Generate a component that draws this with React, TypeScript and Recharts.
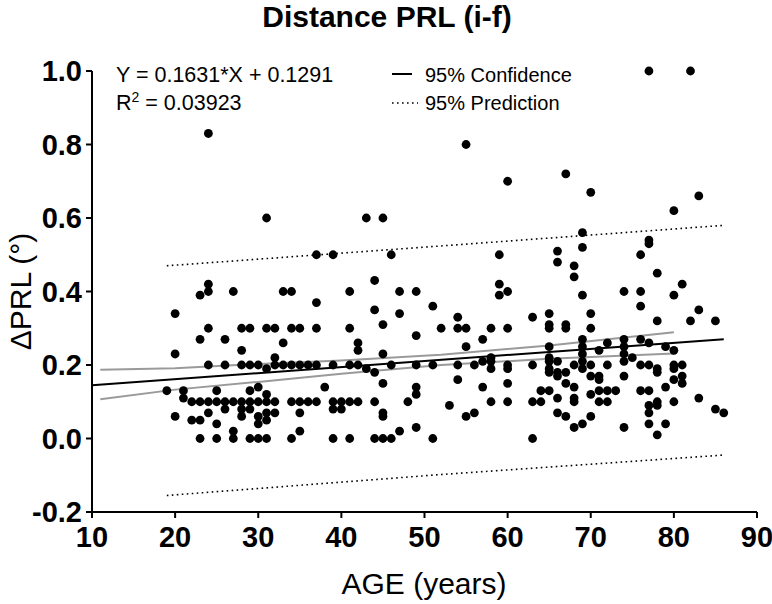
import React from "react";
import { ScatterChart, Scatter, XAxis, YAxis } from "recharts";

// ages (years) that have at least one measurement
const ages = [
  19, 20, 21, 22, 23, 24, 25, 26, 27, 28, 29, 30, 31, 32, 33, 34, 35, 36, 37,
  38, 39, 40, 41, 42, 43, 44, 45, 46, 47, 48, 49, 51, 52, 53, 54, 55, 56, 57,
  58, 59, 60, 63, 64, 65, 66, 67, 68, 69, 70, 71, 72, 73, 74, 75, 76, 77, 78,
  79, 80, 81, 82, 83, 85, 86,
];

// ΔPRL values for each age above, same order
const deltaPRL = [
  [0.13],
  [0.34, 0.23, 0.06],
  [0.13, 0.11],
  [0.1, 0.05],
  [0.39, 0.27, 0.1, 0.05, 0.0],
  [0.83, 0.42, 0.4, 0.3, 0.2, 0.1, 0.07],
  [0.13, 0.1, 0.04, 0.0],
  [0.27, 0.2, 0.1, 0.08],
  [0.4, 0.1, 0.02, 0.0],
  [0.3, 0.24, 0.2, 0.1, 0.08, 0.06],
  [0.3, 0.2, 0.13, 0.1, 0.08, 0.0],
  [0.2, 0.14, 0.1, 0.06, 0.04, 0.0],
  [0.6, 0.3, 0.19, 0.12, 0.1, 0.07, 0.05, 0.0],
  [0.3, 0.22, 0.2, 0.1, 0.07],
  [0.4, 0.26, 0.2],
  [0.4, 0.3, 0.2, 0.1, 0.0],
  [0.3, 0.2, 0.1, 0.07, 0.02],
  [0.2, 0.1],
  [0.5, 0.37, 0.3, 0.2, 0.1],
  [0.14],
  [0.5, 0.2, 0.1, 0.08, 0.0],
  [0.1, 0.08],
  [0.4, 0.3, 0.2, 0.1, 0.0],
  [0.26, 0.24, 0.2, 0.1],
  [0.6, 0.19],
  [0.43, 0.35, 0.18, 0.1, 0.0],
  [0.6, 0.31, 0.23, 0.15, 0.07, 0.06, 0.0],
  [0.5, 0.2, 0.0],
  [0.4, 0.34, 0.02],
  [0.1],
  [0.4, 0.28, 0.2, 0.14, 0.12, 0.03],
  [0.36, 0.2, 0.0],
  [0.3],
  [0.09],
  [0.33, 0.3, 0.2, 0.16],
  [0.8, 0.3, 0.25, 0.06],
  [0.2, 0.07],
  [0.27, 0.21, 0.14],
  [0.3, 0.22, 0.21, 0.19, 0.1],
  [0.5, 0.42, 0.39],
  [0.7, 0.4, 0.3, 0.2, 0.19, 0.15, 0.1],
  [0.33, 0.2, 0.1, 0.0],
  [0.13, 0.1],
  [0.34, 0.31, 0.3, 0.25, 0.22, 0.21, 0.19, 0.18, 0.13],
  [0.51, 0.48, 0.21, 0.18, 0.17, 0.11, 0.07],
  [0.72, 0.31, 0.3, 0.18, 0.15, 0.06],
  [0.47, 0.44, 0.2, 0.14, 0.11, 0.1, 0.03],
  [0.56, 0.52, 0.39, 0.27, 0.25, 0.23, 0.21, 0.19, 0.04],
  [0.67, 0.34, 0.3, 0.2, 0.17, 0.12, 0.06],
  [0.24, 0.17, 0.16, 0.13, 0.1],
  [0.26, 0.2, 0.13, 0.1],
  [0.13],
  [0.4, 0.27, 0.25, 0.23, 0.21, 0.17, 0.03],
  [0.22],
  [0.5, 0.4, 0.36, 0.27, 0.2, 0.13],
  [1.0, 0.54, 0.53, 0.26, 0.2, 0.13, 0.09, 0.07, 0.04],
  [0.45, 0.32, 0.19, 0.18, 0.1, 0.09, 0.01],
  [0.25, 0.14, 0.04],
  [0.62, 0.39, 0.24, 0.2, 0.19, 0.16, 0.1],
  [0.42, 0.2, 0.17, 0.15],
  [1.0, 0.32],
  [0.66, 0.35, 0.11],
  [0.32, 0.08],
  [0.07],
];

// regression line and bands
const fitAges = [10, 86];
const fitValues = [0.145, 0.27];

const confAges = [11, 20, 30, 40, 52, 65, 80];
const confUpper = [0.187, 0.191, 0.203, 0.212, 0.228, 0.253, 0.289];
const confLower = [0.107, 0.133, 0.154, 0.176, 0.2, 0.217, 0.231];

const predAges = [19, 52, 86];
const predUpper = [0.47, 0.524, 0.58];
const predLower = [-0.155, -0.098, -0.045];

const xTicks = [10, 20, 30, 40, 50, 60, 70, 80, 90];
const yTicks = [-0.2, 0, 0.2, 0.4, 0.6, 0.8, 1.0];

const points = ages.flatMap((a, i) => deltaPRL[i].map((v) => ({ x: a, y: v })));
const pairs = (xs: number[], ys: number[]) => xs.map((x, i) => ({ x, y: ys[i] }));

const FONT = "'Liberation Sans', Arial, Helvetica, sans-serif";
const W = 772;
const H = 604;

const Dot = (props: any) => <circle cx={props.cx} cy={props.cy} r={4.4} fill="#000" />;
const NoDot = () => <g />;

const XTick = (props: any) => (
  <text x={props.x} y={props.y} dy="0.71em" textAnchor="middle" fontSize={29} fontWeight={700} fontFamily={FONT} fill="#000">
    {props.payload.value}
  </text>
);

const YTick = (props: any) => (
  <text x={props.x} y={props.y} dy="0.36em" textAnchor="end" fontSize={29} fontWeight={700} fontFamily={FONT} fill="#000">
    {Number(props.payload.value).toFixed(1)}
  </text>
);

export default function App() {
  const axisStyle = { stroke: "#000", strokeWidth: 2 };
  const dotted = { stroke: "#000", strokeWidth: 1.6, strokeDasharray: "1.6 3.4" };
  const grey = { stroke: "#9a9a9a", strokeWidth: 2 };
  return (
    <div style={{ position: "absolute", left: 0, top: 0, width: W, height: H, background: "#fff" }}>
      <ScatterChart width={W} height={H} margin={{ top: 71, right: 15, bottom: 52, left: 0 }}>
        <XAxis
          type="number"
          dataKey="x"
          domain={[10, 90]}
          ticks={xTicks}
          height={40}
          tickSize={6}
          tickMargin={8}
          axisLine={axisStyle}
          tickLine={axisStyle}
          tick={(p: any) => <XTick {...p} />}
        />
        <YAxis
          type="number"
          dataKey="y"
          domain={[-0.2, 1.0]}
          ticks={yTicks}
          width={92}
          tickSize={6}
          tickMargin={4}
          axisLine={axisStyle}
          tickLine={axisStyle}
          tick={(p: any) => <YTick {...p} />}
        />
        <Scatter data={pairs(predAges, predUpper)} line={dotted} shape={NoDot} isAnimationActive={false} />
        <Scatter data={pairs(predAges, predLower)} line={dotted} shape={NoDot} isAnimationActive={false} />
        <Scatter data={pairs(confAges, confUpper)} line={grey} lineType="joint" shape={NoDot} isAnimationActive={false} />
        <Scatter data={pairs(confAges, confLower)} line={grey} lineType="joint" shape={NoDot} isAnimationActive={false} />
        <Scatter
          data={pairs(fitAges, fitValues)}
          line={{ stroke: "#000", strokeWidth: 2 }}
          shape={NoDot}
          isAnimationActive={false}
        />
        <Scatter data={points} fill="#000" shape={Dot} isAnimationActive={false} />
      </ScatterChart>

      <svg
        width={W}
        height={H}
        style={{ position: "absolute", left: 0, top: 0, pointerEvents: "none" }}
        fontFamily={FONT}
        fill="#000"
      >
        <text x={387} y={27} textAnchor="middle" fontSize={30} fontWeight={700}>
          Distance PRL (i-f)
        </text>
        <text x={116} y={82} fontSize={21.5}>
          Y = 0.1631*X + 0.1291
        </text>
        <text x={116} y={110} fontSize={21.5}>
          R<tspan dy={-8} fontSize={14}>2</tspan>
          <tspan dy={8}> = 0.03923</tspan>
        </text>
        <line x1={392} x2={412} y1={74} y2={74} stroke="#000" strokeWidth={2} />
        <text x={425} y={82} fontSize={20}>
          95% Confidence
        </text>
        <line x1={392} x2={418} y1={103} y2={103} {...dotted} />
        <text x={425} y={110} fontSize={20}>
          95% Prediction
        </text>
        <text x={424} y={594} textAnchor="middle" fontSize={30}>
          AGE (years)
        </text>
        <text transform="translate(30.5,291.5) rotate(-90)" textAnchor="middle" fontSize={30}>
          ΔPRL (°)
        </text>
      </svg>
    </div>
  );
}
